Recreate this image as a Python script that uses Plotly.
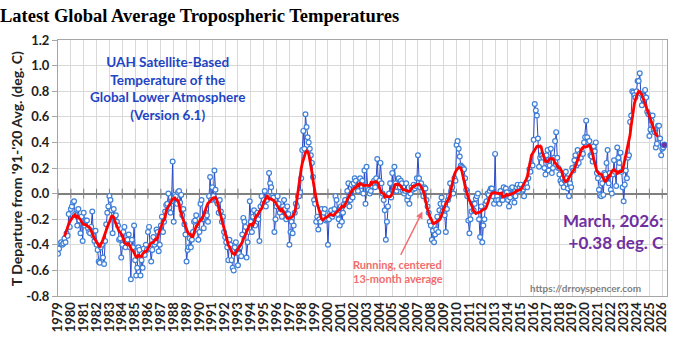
import numpy as np
import plotly.graph_objects as go

# ---- monthly anomalies (deg C) ----
y1979 = [-0.47,-0.43,-0.39,-0.38,-0.40,-0.39,-0.35,-0.38,-0.31,-0.33,-0.16,-0.26]
y1980 = [-0.12,-0.10,-0.07,-0.06,-0.16,-0.17,-0.25,-0.12,-0.21,-0.31,-0.18,-0.37]
y1981 = [-0.15,-0.25,-0.21,-0.21,-0.27,-0.30,-0.31,-0.26,-0.14,-0.33,-0.37,-0.29]
y1982 = [-0.40,-0.44,-0.53,-0.54,-0.42,-0.40,-0.50,-0.55,-0.37,-0.24,-0.15,-0.10]
y1983 = [-0.02,-0.05,-0.13,-0.31,-0.12,-0.18,-0.17,-0.22,-0.25,-0.36,-0.35,-0.50]
y1984 = [-0.40,-0.30,-0.26,-0.42,-0.38,-0.36,-0.32,-0.42,-0.67,-0.36,-0.42,-0.25]
y1985 = [-0.52,-0.64,-0.58,-0.42,-0.44,-0.64,-0.52,-0.58,-0.43,-0.48,-0.40,-0.44]
y1986 = [-0.30,-0.26,-0.43,-0.53,-0.44,-0.34,-0.40,-0.38,-0.28,-0.30,-0.45,-0.40]
y1987 = [-0.25,-0.18,-0.30,-0.22,-0.14,-0.09,-0.08,0.00,-0.11,-0.15,-0.06,0.25]
y1988 = [-0.22,-0.01,-0.02,-0.08,0.01,0.02,-0.07,-0.01,-0.17,-0.12,-0.24,-0.32]
y1989 = [-0.53,-0.44,-0.42,-0.35,-0.42,-0.36,-0.30,-0.22,-0.21,-0.17,-0.28,-0.36]
y1990 = [-0.30,-0.08,-0.05,-0.20,-0.27,-0.18,-0.15,-0.17,-0.22,-0.02,0.13,-0.05]
y1991 = [0.05,-0.02,0.18,0.03,-0.06,-0.08,-0.15,-0.05,-0.14,-0.22,-0.18,-0.30]
y1992 = [-0.34,-0.38,-0.42,-0.52,-0.36,-0.40,-0.52,-0.58,-0.60,-0.42,-0.38,-0.46]
y1993 = [-0.56,-0.47,-0.42,-0.49,-0.32,-0.19,-0.22,-0.26,-0.50,-0.38,-0.30,-0.06]
y1994 = [-0.22,-0.30,-0.18,-0.13,-0.25,-0.17,-0.15,-0.20,-0.37,-0.10,-0.02,-0.08]
y1995 = [-0.05,0.02,-0.10,-0.05,-0.02,0.16,0.08,0.05,-0.02,-0.03,-0.30,-0.20]
y1996 = [-0.10,-0.02,-0.08,-0.15,-0.12,-0.18,-0.10,-0.05,-0.12,-0.20,-0.10,-0.16]
y1997 = [-0.40,-0.30,-0.22,-0.31,-0.25,-0.15,-0.08,-0.10,-0.02,-0.02,0.01,0.12]
y1998 = [0.34,0.49,0.35,0.62,0.52,0.44,0.40,0.35,0.30,0.24,0.13,-0.05]
y1999 = [-0.08,-0.22,-0.18,-0.28,-0.20,-0.22,-0.12,-0.18,-0.15,-0.12,-0.21,-0.20]
y2000 = [-0.40,-0.20,-0.15,-0.13,-0.18,-0.16,-0.12,-0.02,-0.05,-0.16,-0.20,-0.25]
y2001 = [-0.10,-0.22,-0.15,-0.08,-0.05,-0.08,0.02,0.08,-0.10,-0.05,0.07,-0.03]
y2002 = [0.08,0.12,0.10,0.05,0.02,0.08,0.12,0.06,0.10,0.00,0.18,-0.08]
y2003 = [0.21,0.05,0.03,0.00,0.02,0.06,0.08,0.10,0.05,0.12,0.27,0.08]
y2004 = [0.10,0.24,0.08,0.00,-0.05,-0.13,-0.36,-0.22,-0.10,0.00,0.08,-0.03]
y2005 = [0.16,0.02,0.21,0.08,0.02,0.05,0.12,0.05,0.10,0.08,0.02,0.00]
y2006 = [0.02,0.08,-0.05,-0.02,-0.08,0.00,0.05,0.03,0.07,0.04,0.06,0.12]
y2007 = [0.30,0.12,0.05,0.08,0.02,-0.02,0.05,0.04,-0.05,-0.10,-0.15,-0.22]
y2008 = [-0.25,-0.36,-0.29,-0.38,-0.32,-0.28,-0.18,-0.30,-0.13,-0.08,-0.03,-0.14]
y2009 = [-0.08,-0.17,-0.30,-0.12,-0.05,-0.02,0.08,0.02,0.05,0.00,0.12,0.10]
y2010 = [0.38,0.41,0.35,0.29,0.22,0.21,0.20,0.19,0.12,0.03,-0.02,-0.21]
y2011 = [-0.31,-0.20,-0.14,-0.08,-0.13,-0.08,-0.04,-0.02,0.00,-0.20,-0.34,-0.10]
y2012 = [-0.38,-0.25,-0.20,-0.08,-0.06,0.00,-0.01,0.02,0.04,0.04,-0.02,-0.08]
y2013 = [0.31,-0.05,-0.02,-0.05,-0.08,0.02,-0.05,-0.05,0.05,-0.01,0.04,0.01]
y2014 = [-0.05,-0.10,-0.03,0.04,0.05,0.00,-0.07,-0.02,0.05,0.07,0.02,0.05]
y2015 = [0.07,0.04,0.03,-0.02,0.05,0.08,0.05,0.12,0.19,0.17,0.23,0.22]
y2016 = [0.42,0.70,0.65,0.61,0.43,0.21,0.28,0.30,0.30,0.28,0.20,0.15]
y2017 = [0.30,0.34,0.18,0.22,0.35,0.16,0.20,0.28,0.41,0.48,0.28,0.20]
y2018 = [0.15,0.10,0.08,0.12,0.05,0.10,0.17,0.12,0.04,-0.02,0.08,0.05]
y2019 = [0.20,0.18,0.26,0.30,0.22,0.34,0.24,0.31,0.28,0.33,0.31,0.40]
y2020 = [0.44,0.57,0.44,0.40,0.41,0.30,0.29,0.25,0.37,0.33,0.40,0.16]
y2021 = [0.12,0.03,-0.01,-0.02,0.08,-0.01,0.16,0.15,0.24,0.34,0.08,0.16]
y2022 = [0.03,0.00,0.15,0.26,0.17,0.06,0.36,0.28,0.24,0.32,0.17,0.05]
y2023 = [-0.06,0.07,0.18,0.12,0.28,0.30,0.56,0.61,0.80,0.79,0.77,0.75]
y2024 = [0.80,0.88,0.88,0.94,0.78,0.69,0.74,0.76,0.81,0.75,0.64,0.62]
y2025 = [0.45,0.50,0.57,0.61,0.50,0.48,0.36,0.39,0.53,0.53,0.43,0.30]
y2026 = [0.35,0.36,0.38]

years = list(range(1979, 2027))
year_series = [y1979, y1980, y1981, y1982, y1983, y1984, y1985, y1986, y1987, y1988,
               y1989, y1990, y1991, y1992, y1993, y1994, y1995, y1996, y1997, y1998,
               y1999, y2000, y2001, y2002, y2003, y2004, y2005, y2006, y2007, y2008,
               y2009, y2010, y2011, y2012, y2013, y2014, y2015, y2016, y2017, y2018,
               y2019, y2020, y2021, y2022, y2023, y2024, y2025, y2026]

x_tick_labels = [str(y) for y in years]
y_tick_vals = [-0.8, -0.6, -0.4, -0.2, 0.0, 0.2, 0.4, 0.6, 0.8, 1.0, 1.2]
y_tick_labels = ["-0.8", "-0.6", "-0.4", "-0.2", "0.0", "0.2", "0.4", "0.6", "0.8", "1.0", "1.2"]

# time axis: decimal year of each month
t, v = [], []
for yr, vals in zip(years, year_series):
    for m, val in enumerate(vals):
        t.append(yr + m / 12.0)
        v.append(val)
t = np.array(t)
v = np.array(v)

# centered 13-month running average
rm = np.convolve(v, np.ones(13) / 13.0, mode="valid")
rm_t = t[6:-6]

BLUE_LINE = "#2A48C6"
BLUE_MARK = "#3F80D8"
RED = "#FF0000"
PURPLE = "#7030A0"
SALMON = "#F26D6D"
FONT = "Lato"
TXT = "#222222"

fig = go.Figure()

# tick marks on the zero line (category axis crossing)
fig.add_trace(go.Scatter(
    x=years, y=[0] * len(years), mode="markers",
    marker=dict(symbol="line-ns", size=7, line=dict(color="#808080", width=1)),
    hoverinfo="skip", showlegend=False))

fig.add_trace(go.Scatter(
    x=t, y=v, mode="lines+markers",
    line=dict(color=BLUE_LINE, width=1),
    marker=dict(symbol="circle", size=4.8, color="white",
                line=dict(color=BLUE_MARK, width=1.2)),
    showlegend=False))

fig.add_trace(go.Scatter(
    x=rm_t, y=rm, mode="lines",
    line=dict(color=RED, width=2.8), showlegend=False))

fig.add_trace(go.Scatter(
    x=[t[-1]], y=[v[-1]], mode="markers",
    marker=dict(symbol="circle", size=6, color=PURPLE,
                line=dict(color=BLUE_MARK, width=1)),
    showlegend=False))

PL, PR, PT, PB = 58, 669, 40, 296
W, H = 675, 348

def px_x(px):
    return (px - PL) / (PR - PL)

def px_y(py):
    return (PB - py) / (PB - PT)

# white text boxes covering gridlines
for (x0, y0, x1, y1) in [(58.5, 47, 268, 127), (543, 210, 668.5, 256), (533, 282, 641, 294)]:
    fig.add_shape(type="rect", xref="paper", yref="paper",
                  x0=px_x(x0), x1=px_x(x1), y0=px_y(y1), y1=px_y(y0),
                  fillcolor="white", line=dict(width=0), layer="between")

ann = []
ann.append(dict(text="<b>UAH Satellite-Based<br>Temperature of the<br>Global Lower Atmosphere<br>(Version 6.1)</b>",
                xref="paper", yref="paper", x=px_x(168), y=px_y(88), xanchor="center", yanchor="middle",
                showarrow=False, align="center",
                font=dict(family=FONT, size=13.5, color="#1F45C4")))
ann.append(dict(text="<b>March, 2026:<br>+0.38 deg. C</b>",
                xref="paper", yref="paper", x=px_x(668), y=px_y(231.5), xanchor="right", yanchor="middle",
                showarrow=False, align="right",
                font=dict(family=FONT, size=17, color=PURPLE)))
ann.append(dict(text="<b>https://drroyspencer.com</b>",
                xref="paper", yref="paper", x=px_x(587), y=px_y(288), xanchor="center", yanchor="middle",
                showarrow=False, font=dict(family=FONT, size=10, color="#7F7F7F")))
ann.append(dict(text="<b>Running, centered<br>13-month average</b>",
                xref="paper", yref="paper", x=px_x(352), y=px_y(271.5), xanchor="left", yanchor="middle",
                showarrow=False, align="left",
                font=dict(family=FONT, size=11, color=SALMON)))
ann.append(dict(text="", x=2007.35, y=-0.14, ax=2005.6, ay=-0.49,
                xref="x", yref="y", axref="x", ayref="y",
                showarrow=True, arrowhead=2, arrowsize=1, arrowwidth=1.4, arrowcolor=SALMON))
ann.append(dict(text="<b>T Departure from '91-'20 Avg. (deg. C)</b>",
                xref="paper", yref="paper", x=px_x(16), y=px_y(169), xanchor="center", yanchor="middle",
                textangle=-90, showarrow=False,
                font=dict(family=FONT, size=14, color=TXT)))

fig.update_layout(
    width=W, height=H,
    margin=dict(l=PL, r=W - PR, t=PT, b=H - PB, pad=0),
    paper_bgcolor="white", plot_bgcolor="white",
    title=dict(text="<b>Latest Global Average Tropospheric Temperatures</b>",
               x=0.0, xref="container", xanchor="left",
               y=1 - 15.5 / H, yref="container", yanchor="middle",
               font=dict(family="Liberation Serif", size=18.5, color="black")),
    annotations=ann,
    showlegend=False,
)

fig.update_xaxes(
    range=[1979, 2026.37],
    tickmode="array", tickvals=years,
    ticktext=["<b>" + s + "</b>" for s in x_tick_labels],
    tickangle=-90,
    tickfont=dict(family=FONT, size=13, color=TXT),
    showgrid=True, gridcolor="#D9D9D9", gridwidth=1,
    showline=True, linecolor="#A6A6A6", linewidth=1, mirror=True,
    ticks="", zeroline=False,
)
fig.update_yaxes(
    range=[-0.8, 1.2],
    tickmode="array", tickvals=y_tick_vals,
    ticktext=["<b>" + s + "</b>" for s in y_tick_labels],
    tickfont=dict(family=FONT, size=13, color=TXT),
    showgrid=True, gridcolor="#D9D9D9", gridwidth=1,
    showline=True, linecolor="#A6A6A6", linewidth=1, mirror=True,
    ticks="outside", ticklen=5, tickcolor="#A6A6A6",
    zeroline=True, zerolinecolor="#808080", zerolinewidth=1.5,
)

fig.write_html("out.html")
